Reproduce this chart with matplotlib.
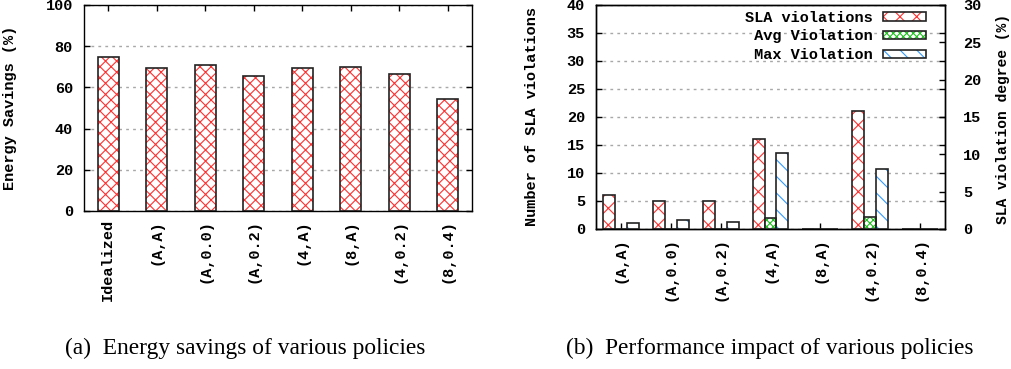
"""==============================================================
# 라이브러리 불러오기
=============================================================="""
import matplotlib
matplotlib.use("Agg")
import matplotlib.pyplot as plt
import numpy as np

"""==============================================================
# 데이터
=============================================================="""
# (a) 정책별 에너지 절감률 (%)
energy_policies = ["Idealized", "(A,A)", "(A,0.0)", "(A,0.2)",
                   "(4,A)", "(8,A)", "(4,0.2)", "(8,0.4)"]
energy_savings = [75.0, 69.5, 70.8, 65.4, 69.5, 70.1, 66.7, 54.6]

# (b) 정책별 SLA 위반 횟수 / 위반 정도 (%)
perf_policies = ["(A,A)", "(A,0.0)", "(A,0.2)", "(4,A)",
                 "(8,A)", "(4,0.2)", "(8,0.4)"]
sla_violations = [6, 5, 5, 16, 0, 21, 0]
avg_violation = [0.0, 0.0, 0.0, 1.5, 0.0, 1.65, 0.0]
max_violation = [0.75, 1.15, 0.95, 10.2, 0.0, 8.0, 0.0]

"""==============================================================
# 공통 스타일
=============================================================="""
MONO = "Liberation Mono"
SERIF = "Liberation Serif"
plt.rcParams["font.family"] = [MONO, "DejaVu Sans"]
plt.rcParams["font.weight"] = "bold"
plt.rcParams["axes.labelweight"] = "bold"
plt.rcParams["font.size"] = 11
plt.rcParams["hatch.linewidth"] = 0.8
plt.rcParams["axes.linewidth"] = 1.0

GRID_KW = dict(color="#a8a8a8", linestyle=(0, (2, 3)), linewidth=1.0)


def hatched_bars(ax, x, heights, width, color, hatch):
    """해치 무늬(색상)와 검은 테두리를 따로 그려서 gnuplot 느낌을 낸다"""
    fill = ax.bar(x, heights, width, facecolor="white", edgecolor=color,
                  hatch=hatch, linewidth=0, zorder=2)
    edge = ax.bar(x, heights, width, fill=False, edgecolor="#222222",
                  linewidth=1.2, zorder=3)
    return fill, edge


def style_ticks(ax):
    ax.tick_params(direction="in", length=4, width=1.0, pad=8)
    ax.tick_params(axis="x", pad=6)
    ax.set_axisbelow(True)


fig = plt.figure(figsize=(10.11, 3.69), dpi=100)

"""==============================================================
# (a) 에너지 절감
=============================================================="""
ax_a = fig.add_axes([84 / 1011, 158 / 369, 388 / 1011, 206 / 369])
xa = np.arange(len(energy_policies))
hatched_bars(ax_a, xa, energy_savings, 0.44, "#ff3030", "xxx")

ax_a.set_xlim(-0.5, len(energy_policies) - 0.5)
ax_a.set_ylim(0, 100)
ax_a.set_yticks(np.arange(0, 101, 20))
ax_a.set_xticks(xa)
ax_a.set_xticklabels(energy_policies, rotation=90)
ax_a.yaxis.grid(True, **GRID_KW)
style_ticks(ax_a)
ax_a.tick_params(top=True, right=True)
ax_a.set_ylabel("Energy Savings (%)")
ax_a.yaxis.set_label_coords(-0.173, 0.5)

"""==============================================================
# (b) 성능 영향 (왼쪽 축: 위반 횟수, 오른쪽 축: 위반 정도)
=============================================================="""
ax_b = fig.add_axes([596 / 1011, 140 / 369, 349 / 1011, 224 / 369])
ax_b2 = ax_b.twinx()
xb = np.arange(len(perf_policies))
bw = 0.24

sla_h = hatched_bars(ax_b, xb - bw, sla_violations, bw, "#ff3030", "xx")
avg_h = hatched_bars(ax_b2, xb, avg_violation, bw, "#20c020", "xxxxx")
max_h = hatched_bars(ax_b2, xb + bw, max_violation, bw, "#3399ff", "\\\\")

ax_b.set_xlim(-0.5, len(perf_policies) - 0.5)
ax_b.set_ylim(0, 40)
ax_b.set_yticks(np.arange(0, 41, 5))
ax_b2.set_ylim(0, 30)
ax_b2.set_yticks(np.arange(0, 31, 5))
ax_b.set_xticks(xb)
ax_b.set_xticklabels(perf_policies, rotation=90)
ax_b.yaxis.grid(True, **GRID_KW)
style_ticks(ax_b)
style_ticks(ax_b2)
ax_b.tick_params(axis="y", right=True)
ax_b2.tick_params(axis="y", pad=13)
ax_b.set_ylabel("Number of SLA violations")
ax_b.yaxis.set_label_coords(-0.163, 0.5)
ax_b2.set_ylabel("SLA violation degree (%)", fontsize=10.5)
ax_b2.yaxis.set_label_coords(1.146, 0.49)

# 범례: 글자는 오른쪽 정렬, 샘플은 글자 오른쪽
ax_b2.legend([sla_h, avg_h, max_h],
             ["SLA violations", " Avg Violation", " Max Violation"],
             loc="upper right", bbox_to_anchor=(0.9456, 0.975),
             frameon=False, markerfirst=False, borderpad=0, borderaxespad=0,
             handlelength=2.8, handleheight=0.5, labelspacing=0.32,
             handletextpad=0.7, prop=dict(family=MONO, weight="bold", size=11))

"""==============================================================
# 캡션
=============================================================="""
fig.text(245 / 1011, 15 / 369, "(a)  Energy savings of various policies",
         ha="center", va="baseline", family=SERIF, weight="normal", fontsize=16.8)
fig.text(770 / 1011, 15 / 369, "(b)  Performance impact of various policies",
         ha="center", va="baseline", family=SERIF, weight="normal", fontsize=16.8)

fig.savefig("out.png", dpi=100)
